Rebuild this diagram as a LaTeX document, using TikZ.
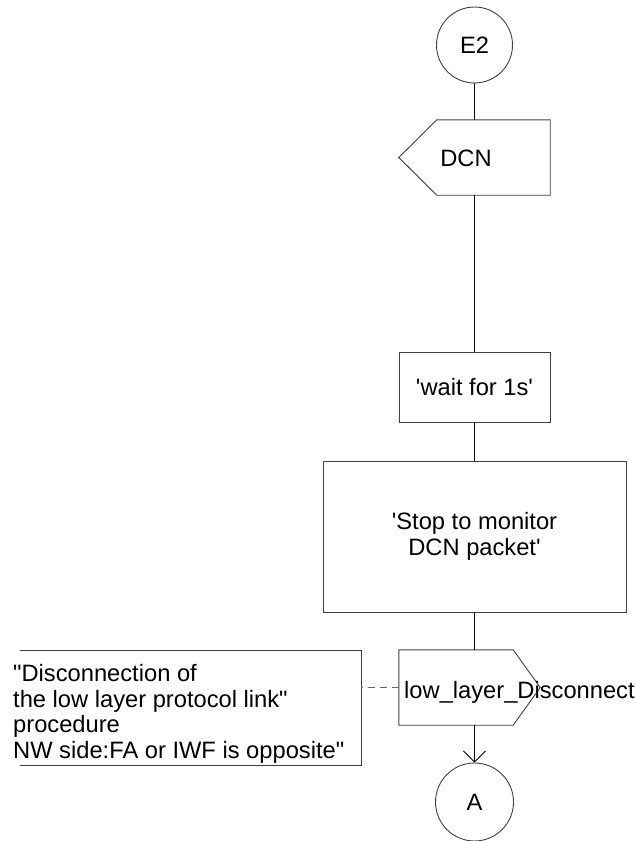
\documentclass[tikz,border=0pt]{standalone}
\usepackage{fontspec}
\newfontfamily\arialfont{Liberation Sans}
\usetikzlibrary{arrows.meta}
\begin{document}
\begin{tikzpicture}[x=1pt,y=-1pt,
  every node/.style={font=\arialfont\fontsize{23.7}{25.7}\selectfont, inner sep=0pt},
  shapeline/.style={draw=black!75, line width=0.9pt},
  conn/.style={draw=black, line width=0.8pt},
  dashconn/.style={draw=black!60, line width=0.8pt, dash pattern=on 7pt off 5pt}]
\useasboundingbox (0,0) rectangle (636,841);
% start connector E2
\node[circle, shapeline, minimum size=76pt] (e2) at (474.5,45) {E2};
% input signal DCN
\node[minimum width=151pt, minimum height=75pt] (dcn) at (474.5,157.5) {};
\draw[shapeline] (dcn.north east) -- (dcn.south east) -- ([xshift=38pt]dcn.south west)
  -- (dcn.west) -- ([xshift=38pt]dcn.north west) -- cycle;
\node (dcntext) at (466,158) {DCN};
% tasks
\node[rectangle, shapeline, minimum width=151pt, minimum height=70pt] (wait) at (474.5,387) {'wait for 1s'};
\node[rectangle, shapeline, minimum width=303pt, minimum height=151pt, align=center] (stop) at (474.5,536.5)
  {'Stop to monitor\\ DCN packet'};
% output signal
\node[minimum width=141pt, minimum height=75pt] (out) at (469.5,687.5) {};
\draw[shapeline] (out.north west) -- ([xshift=-27pt]out.north east) -- (out.east)
  -- ([xshift=-27pt]out.south east) -- (out.south west) -- cycle;
\node[anchor=base west] (outtext) at (404,698) {low\_layer\_Disconnect};
% end connector A
\node[circle, shapeline, minimum size=78pt] (a) at (474.5,802) {A};
% comment
\coordinate (c1) at (20,650);
\coordinate (c2) at (361,650);
\coordinate (c3) at (361,765);
\coordinate (c4) at (20,765);
\draw[shapeline] (c1) -- (c2) -- (c3) -- (c4);
\node[anchor=north west, align=left] (cm) at (13,664)
  {"Disconnection of\\the low layer protocol link"\\procedure\\NW side:FA or IWF is opposite"};
\draw[dashconn] (out.west) -- (out.west -| c2);
% connectors
\draw[conn] (e2.south) -- (dcn.north);
\draw[conn] (dcn.south) -- (wait.north);
\draw[conn] (wait.south) -- (stop.north);
\draw[conn] (stop.south) -- (stop.south |- out.north);
\draw[conn, -{Straight Barb[length=11pt,width=22pt]}] (stop.south |- out.south) -- (a.north);
\end{tikzpicture}
\end{document}
